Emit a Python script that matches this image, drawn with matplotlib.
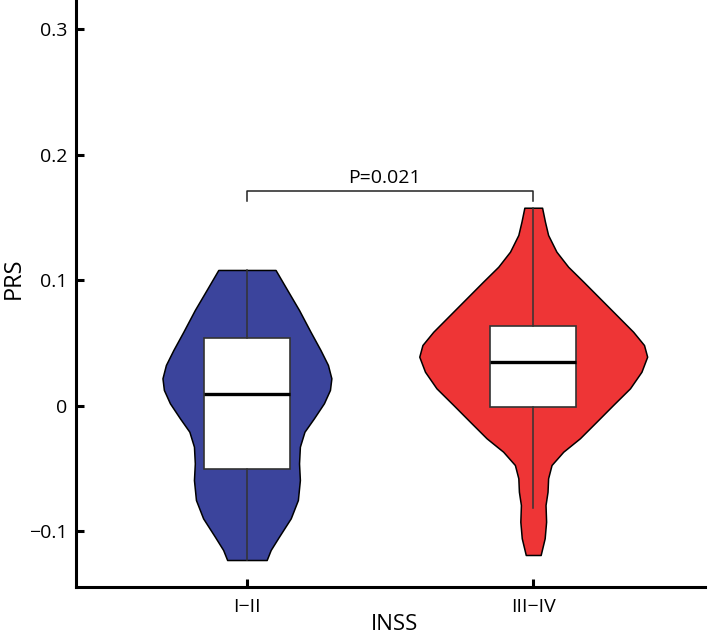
import matplotlib.pyplot as plt

# groups and colours
groups = ["I\u2212II", "III\u2212IV"]
colors = ["#3b449c", "#ee3536"]

# violin outlines: PRS value and half width
blue_y = [0.1080, 0.0920, 0.0761, 0.0588, 0.0442, 0.0323, 0.0217, 0.0124, 0.0018,
          -0.0102, -0.0209, -0.0328, -0.0461, -0.0594, -0.0753, -0.0899, -0.1045,
          -0.1151, -0.1231]
blue_w = [0.100, 0.141, 0.182, 0.222, 0.257, 0.283, 0.295, 0.290, 0.269,
          0.234, 0.201, 0.185, 0.182, 0.185, 0.178, 0.153, 0.112,
          0.083, 0.069]

red_y = [0.1576, 0.1465, 0.1359, 0.1226, 0.1106, 0.0987, 0.0854, 0.0721, 0.0588,
         0.0482, 0.0389, 0.0269, 0.0137, 0.0004, -0.0129, -0.0261, -0.0368,
         -0.0474, -0.0580, -0.0687, -0.0793, -0.0926, -0.1058, -0.1191]
red_w = [0.031, 0.041, 0.052, 0.081, 0.122, 0.175, 0.233, 0.291, 0.349,
         0.387, 0.398, 0.378, 0.338, 0.279, 0.221, 0.163, 0.105,
         0.064, 0.052, 0.050, 0.043, 0.045, 0.040, 0.026]

# box plot summaries
q1 = [-0.0506, -0.0012]
medians = [0.0092, 0.0349]
q3 = [0.0540, 0.0636]
whisker_lo = [-0.1231, -0.0819]
whisker_hi = [0.1080, 0.1576]

p_text = "P=0.021"

plt.rcParams['font.family'] = ['Open Sans', 'DejaVu Sans']

fig = plt.figure(figsize=(7.09, 6.39), dpi=100)
ax = fig.add_axes([76 / 709, 52 / 639, 629 / 709, 587 / 639])

outlines = [(blue_y, blue_w), (red_y, red_w)]
for i, (ys, ws) in enumerate(outlines):
    left = [i - w for w in ws]
    right = [i + w for w in ws]
    ax.fill_betweenx(ys, left, right, facecolor=colors[i], edgecolor='black',
                     linewidth=1.1, zorder=1)

stats = []
for i in range(len(groups)):
    stats.append({'med': medians[i], 'q1': q1[i], 'q3': q3[i],
                  'whislo': whisker_lo[i], 'whishi': whisker_hi[i], 'fliers': []})
ax.bxp(stats, positions=[0, 1], widths=0.30, showcaps=False, patch_artist=True,
       boxprops=dict(facecolor='white', edgecolor='#333333', linewidth=1.2),
       whiskerprops=dict(color='#333333', linewidth=1.1),
       medianprops=dict(color='black', linewidth=2.4),
       manage_ticks=False, zorder=2)

# significance bracket
ax.plot([0, 0, 1, 1], [0.1629, 0.1711, 0.1711, 0.1629], color='#222222', linewidth=1.1)
ax.text(0.48, 0.1745, p_text, ha='center', va='bottom', fontsize=14)

ax.set_xlim(-0.597, 1.600)
ax.set_ylim(-0.1446, 0.3231)
ax.set_xticks([0, 1])
ax.set_xticklabels(groups)
ax.set_yticks([-0.1, 0, 0.1, 0.2, 0.3])
ax.set_yticklabels(["\u22120.1", "0", "0.1", "0.2", "0.3"])

for side in ['top', 'right']:
    ax.spines[side].set_visible(False)
for side in ['left', 'bottom']:
    ax.spines[side].set_linewidth(2.2)
ax.tick_params(direction='in', length=6, width=2.2, labelsize=14)
ax.tick_params(axis='y', pad=6)
ax.tick_params(axis='x', pad=8)

ax.set_ylabel("PRS", fontsize=17)
ax.set_xlabel("INSS", fontsize=16)
ax.yaxis.set_label_coords(-0.080, 0.526)
ax.xaxis.set_label_coords(0.507, -0.046)

fig.savefig("out.png", dpi=100)
